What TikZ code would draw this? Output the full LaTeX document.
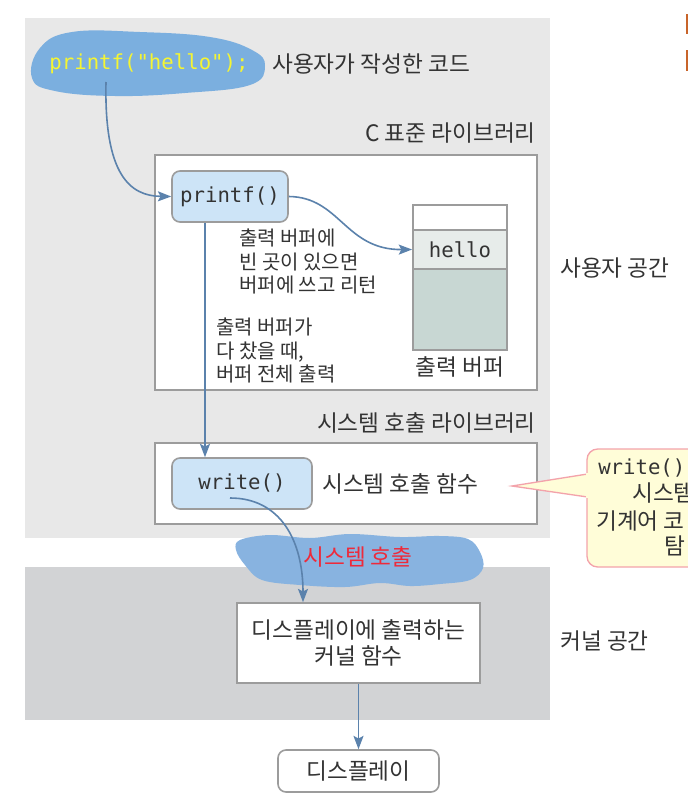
\documentclass[tikz,border=0pt]{standalone}
\usepackage{fontspec}
\setmainfont{Noto Sans CJK KR}
\setmonofont{DejaVu Sans Mono}
\usetikzlibrary{arrows.meta}
\definecolor{panelA}{HTML}{E8E8E8}
\definecolor{panelB}{HTML}{D2D3D5}
\definecolor{boxline}{HTML}{9C9C9C}
\definecolor{fnfill}{HTML}{CDE4F7}
\definecolor{arrowc}{HTML}{5B82AC}
\definecolor{blobA}{HTML}{7BAFDF}
\definecolor{blobB}{HTML}{88B3E0}
\definecolor{codey}{HTML}{F5F532}
\definecolor{txt}{HTML}{333333}
\definecolor{callfill}{HTML}{FFFDD8}
\definecolor{callline}{HTML}{F3A3AB}
\definecolor{redtxt}{HTML}{EE2A3A}
\definecolor{hellofill}{HTML}{E7ECEA}
\definecolor{buffill}{HTML}{C8D7D3}
\definecolor{markc}{HTML}{C8642A}
\newcommand{\bigtxt}{\fontsize{17}{19.5}\selectfont}
\newcommand{\smalltxt}{\fontsize{15}{17.6}\selectfont}
\newcommand{\monotxt}{\fontsize{15.5}{18}\selectfont}
\begin{document}
\begin{tikzpicture}[x=0.75pt,y=-0.75pt,
  every node/.style={text=txt},
  frame/.style={draw=boxline,line width=1.4pt,fill=white,inner sep=0},
  fnbox/.style={draw=boxline,line width=1.2pt,fill=fnfill,rounded corners=6pt,inner sep=0,font=\ttfamily\monotxt},
  plainbox/.style={draw=boxline,line width=1.2pt,fill=white,inner sep=0,align=center,font=\bigtxt},
  lbl/.style={inner sep=0,font=\bigtxt},
  note/.style={inner sep=0,font=\smalltxt,align=left},
  conn/.style={draw=arrowc,line width=1.2pt,-{Stealth[length=10pt,width=7.5pt,inset=2pt]}}
]
\useasboundingbox (0,0) rectangle (688,810);
\begin{scope}
\clip (0,0) rectangle (688,810);
% panels
\fill[panelA] (25,18) rectangle (550,538);
\fill[panelB] (25,567) rectangle (550,720);
% orange marks
\fill[markc] (686,14) rectangle (688,34);
\fill[markc] (686,50) rectangle (688,71);

% user code blob
\fill[blobA] plot[smooth cycle,tension=0.7] coordinates {(32,78) (40,48) (72,32) (140,32) (210,37) (252,50) (265,66) (250,85) (185,93) (115,96) (55,91)};
\node[inner sep=0,font=\ttfamily\monotxt,text=codey] (code) at (149,64) {printf("hello");};
\coordinate (codestart) at (106,82);
\node[lbl,anchor=west] (usercode) at (272,64) {사용자가 작성한 코드};

% C standard library
\node[lbl,anchor=east] (clib) at (536,133) {C 표준 라이브러리};
\node[frame,minimum width=286.5pt,minimum height=176.25pt] (libbox) at (346,272.5) {};
\node[fnbox,minimum width=87pt,minimum height=38.25pt] (printf) at (230,196.5) {printf()};

% output buffer
\node[frame,minimum width=70.5pt,minimum height=18.75pt] (bufTop) at (460,217.5) {};
\node[frame,fill=hellofill,minimum width=70.5pt,minimum height=29.25pt,font=\ttfamily\monotxt] (hello) at (460,249.5) {hello};
\node[frame,fill=buffill,minimum width=70.5pt,minimum height=60.75pt] (bufBot) at (460,309.5) {};
\node[lbl] (buflbl) at (460,367) {출력 버퍼};

\node[note,anchor=north west] (note1) at (239,229) {출력 버퍼에\\빈 곳이 있으면\\버퍼에 쓰고 리턴};
\node[note,anchor=north west] (note2) at (216,318) {출력 버퍼가\\다 찼을 때,\\버퍼 전체 출력};

\node[lbl,anchor=west] (userspace) at (560,268) {사용자 공간};

% system call library
\node[lbl,anchor=east] (slib) at (536,423) {시스템 호출 라이브러리};
\node[frame,minimum width=286.5pt,minimum height=60.75pt] (sysbox) at (346,483.5) {};
\node[fnbox,minimum width=105pt,minimum height=38.25pt] (write) at (242,483.5) {write()};
\node[lbl,anchor=west] (sysfn) at (322,484) {시스템 호출 함수};

% callout
\draw[callline,fill=callfill,line width=1pt,rounded corners=8pt]
  (587,474) -- (587,449) -- (740,449) -- (740,567) -- (587,567) -- (587,497);
\draw[callline,fill=callfill,line width=1pt,line join=miter] (587.5,474) -- (512,486) -- (587.5,497);
\fill[callfill] (586,473) rectangle (592,498);
\coordinate (calltip) at (512,486);
\node[inner sep=0,anchor=west,font=\ttfamily\monotxt] (c1) at (598,468) {write()};
\node[lbl,anchor=west] (c2) at (632,493) {시스템};
\node[lbl,anchor=west] (c3) at (596,521) {기계어 코};
\node[lbl,anchor=west] (c4) at (664,546) {탐};

% system call blob
\fill[blobB] plot[smooth cycle,tension=0.6] coordinates {(240,540) (270,535) (310,538) (350,534) (400,537) (440,536) (468,539) (480,552) (483,568) (470,580) (440,584) (410,586) (380,583) (345,587) (300,585) (262,580) (245,565) (236,550)};
\node[lbl,text=redtxt] (syscall) at (358,557) {시스템 호출};

% kernel
\node[plainbox,minimum width=182.25pt,minimum height=60pt] (kernel) at (358.5,643) {디스플레이에 출력하는\\커널 함수};
\node[lbl,anchor=west] (kspace) at (560,641) {커널 공간};
\node[plainbox,rounded corners=6pt,minimum width=120.75pt,minimum height=31.5pt] (display) at (358.5,771) {디스플레이};

% connectors
\draw[conn] (codestart) .. controls (104,175) and (130,196) .. (printf.west);
\draw[conn] (printf.east) .. controls (340,197) and (345,250) .. (hello.west);
\draw[conn] (printf.south -| 205,0) -- (write.north -| 205,0);
\coordinate (wstart) at (230,498);
\draw[conn] (wstart) .. controls (280,498) and (303,540) .. (kernel.north -| 303,0);
\draw[conn] (kernel.south) -- (display.north);
\end{scope}
\end{tikzpicture}
\end{document}
